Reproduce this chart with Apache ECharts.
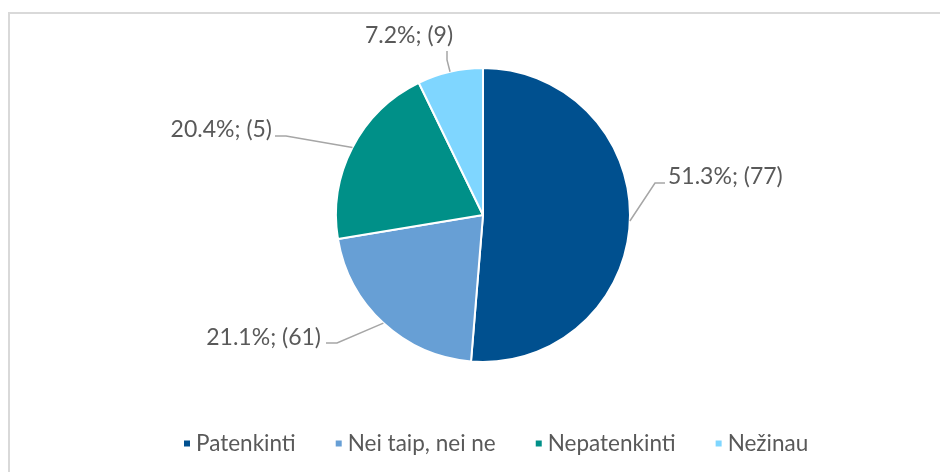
<!DOCTYPE html>
<html>
<head>
<meta charset="utf-8">
<script src="https://cdn.jsdelivr.net/npm/echarts@6/dist/echarts.min.js"></script>
<style>
html,body{margin:0;padding:0;background:#fff;overflow:hidden;}
#frame{position:absolute;left:8px;top:12px;width:1000px;height:1000px;border:2px solid #d9d9d9;box-sizing:border-box;}
#main{position:absolute;left:0;top:0;width:940px;height:472px;}
</style>
</head>
<body>
<div id="frame"></div>
<div id="main"></div>
<script>
const categories = ['Patenkinti', 'Nei taip, nei ne', 'Nepatenkinti', 'Nežinau'];
const percents = [51.3, 21.1, 20.4, 7.2];
const counts = [77, 61, 5, 9];
const colors = ['#00508F', '#679FD5', '#009088', '#7FD6FF'];

// label placement and leader-line bends (layout only)
const labelPlace = [
  {x: 668, y: 177, align: 'left',   end: [665, 183], bend: [655, 183]},
  {x: 321, y: 338, align: 'right',  end: [326, 343], bend: [337, 343]},
  {x: 272, y: 130, align: 'right',  end: [275, 136], bend: [286, 136]},
  {x: 409, y: 36,  align: 'center', end: [447, 51],  bend: [447, 60]}
];

const CX = 483, CY = 215, R = 147;
const total = percents.reduce((a, b) => a + b, 0);
let acc = 0;
const leaderLines = percents.map((v, i) => {
  const mid = (acc + v / 2) / total * 2 * Math.PI;
  acc += v;
  const edge = [CX + R * Math.sin(mid), CY - R * Math.cos(mid)];
  const L = labelPlace[i];
  return {
    type: 'polyline',
    silent: true,
    z: 10,
    shape: {points: [edge, L.bend, L.end]},
    style: {stroke: '#a6a6a6', lineWidth: 1.5, fill: null}
  };
});

const chart = echarts.init(document.getElementById('main'), null, {renderer: 'canvas'});
const font = 'Lato, "Open Sans", sans-serif';
chart.setOption({
  animation: false,
  color: colors,
  graphic: leaderLines,
  legend: {
    top: 427,
    left: 177,
    icon: 'rect',
    itemWidth: 8,
    itemHeight: 8,
    itemGap: 38,
    textStyle: {color: '#595959', fontSize: 22.5, fontFamily: font},
    data: categories
  },
  series: [{
    type: 'pie',
    center: [CX, CY],
    radius: [0, R],
    startAngle: 90,
    clockwise: true,
    itemStyle: {borderColor: '#fff', borderWidth: 2},
    label: {
      show: true,
      color: '#595959',
      fontSize: 23,
      fontFamily: font,
      formatter: p => p.value.toFixed(1) + '%; (' + counts[p.dataIndex] + ')'
    },
    labelLine: {show: false},
    labelLayout: p => {
      const L = labelPlace[p.dataIndex];
      return {x: L.x, y: L.y, align: L.align, verticalAlign: 'middle'};
    },
    data: categories.map((c, i) => ({name: c, value: percents[i]}))
  }]
});
</script>
</body>
</html>
